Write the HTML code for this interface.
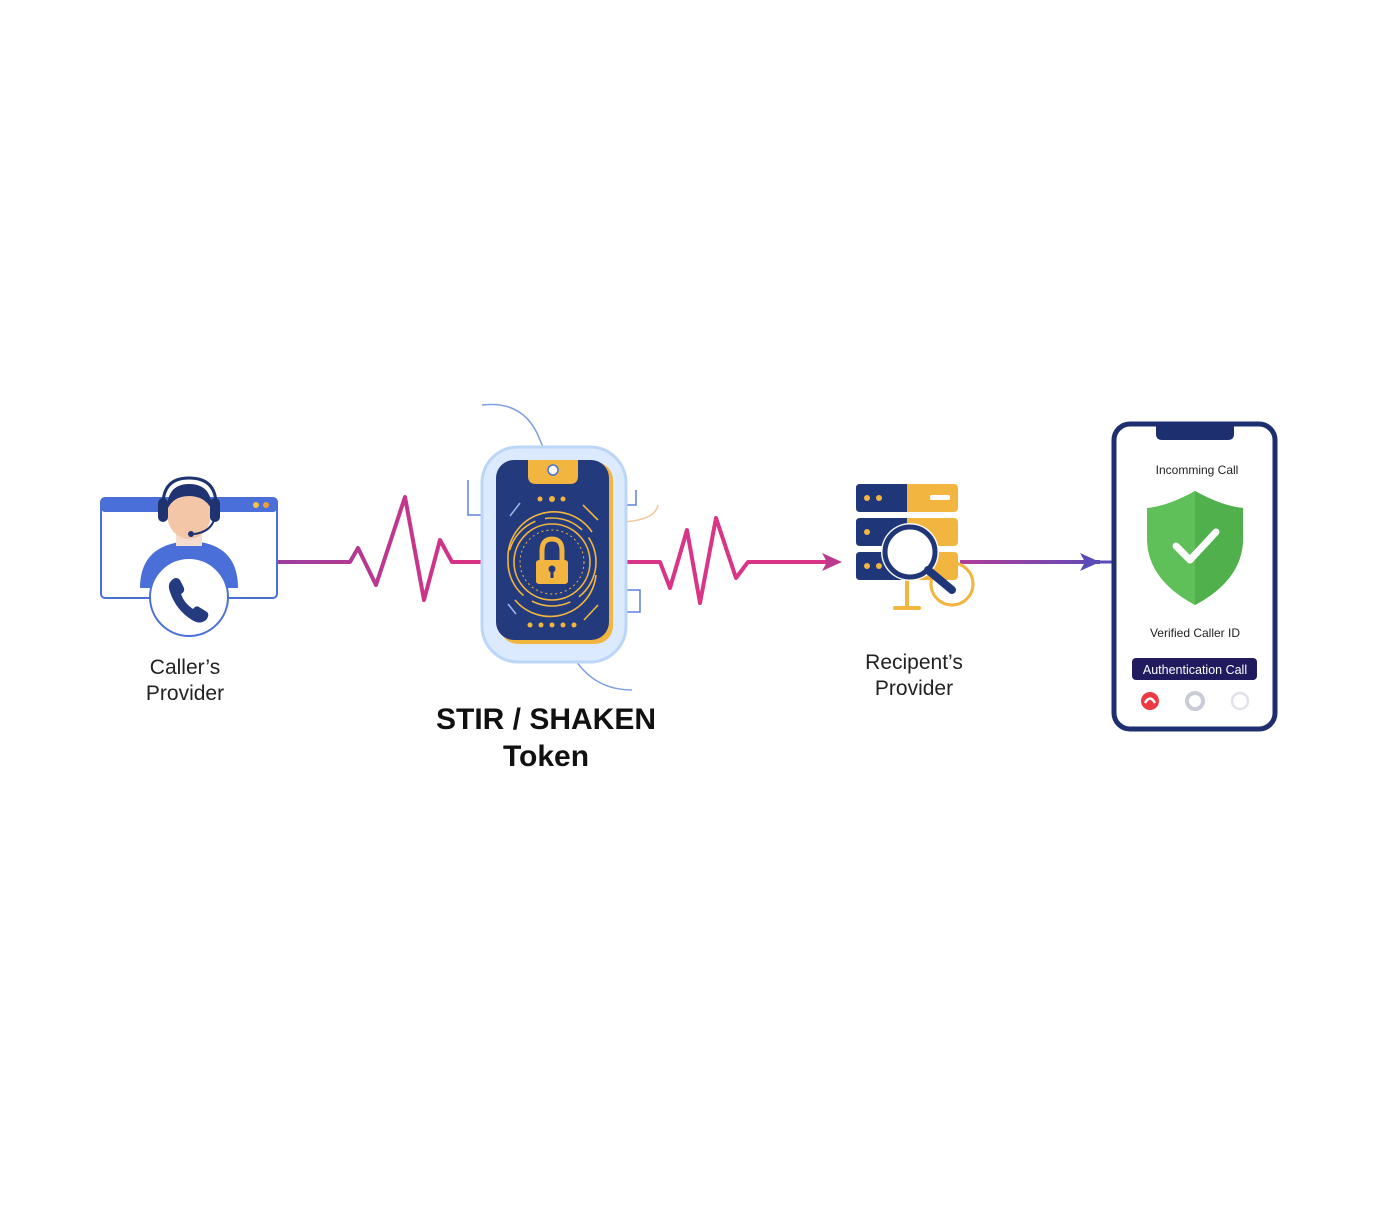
<!DOCTYPE html>
<html><head><meta charset="utf-8"><style>
html,body{margin:0;padding:0;background:#fff;}
svg{display:block}
text{font-family:"Liberation Sans",sans-serif}
</style></head><body>
<svg width="1374" height="1212" viewBox="0 0 1374 1212" xmlns="http://www.w3.org/2000/svg">
<defs>
<linearGradient id="lg1" gradientUnits="userSpaceOnUse" x1="278" y1="0" x2="490" y2="0"><stop offset="0" stop-color="#9a3f9e"/><stop offset="1" stop-color="#e0307f"/></linearGradient>
<linearGradient id="lg2" gradientUnits="userSpaceOnUse" x1="960" y1="0" x2="1110" y2="0"><stop offset="0" stop-color="#b03d98"/><stop offset="1" stop-color="#5b4bb8"/></linearGradient>
</defs>
<!-- connectors -->
<polyline points="278,562 350,562 358,548 376,585 405,497 424,600 440,540 452,562 490,562" fill="none" stroke="url(#lg1)" stroke-width="4" stroke-linejoin="round"/>
<polyline points="612,562 660,562 670,588 687,530 700,603 716,518 736,578 748,562 830,562" fill="none" stroke="#d93486" stroke-width="4" stroke-linejoin="round"/>
<polygon points="822,553 842,562 822,571 827,562" fill="#b93a90"/>
<rect x="960" y="560" width="140" height="4" fill="url(#lg2)"/>
<polygon points="1080,553 1100,562 1080,571 1085,562" fill="#5a4bb8"/>
<line x1="1095" y1="562" x2="1113" y2="562" stroke="#5a4bb8" stroke-width="3"/>

<!-- caller's provider -->
<rect x="101" y="498" width="176" height="100" rx="4" fill="#fff" stroke="#4a6fd8" stroke-width="2"/>
<rect x="101" y="498" width="176" height="14" rx="4" fill="#4a6fd8"/>
<circle cx="256" cy="505" r="3" fill="#f3c04c"/><circle cx="266" cy="505" r="3" fill="#f39b3c"/>
<path d="M140,588 Q140,548 180,542 L200,542 Q238,548 238,588 Z" fill="#4a6fd8"/>
<rect x="176" y="528" width="26" height="18" fill="#f6ddd0"/>
<ellipse cx="189" cy="514" rx="22" ry="25" fill="#f4c6a8"/>
<path d="M167,510 Q167,484 189,484 Q212,484 212,510 Q205,496 189,496 Q173,496 167,510Z" fill="#1e3370"/>
<path d="M163,505 Q163,478 189,478 Q216,478 216,505" fill="none" stroke="#1e3370" stroke-width="3"/>
<rect x="158" y="498" width="10" height="24" rx="5" fill="#1e3370"/>
<rect x="210" y="498" width="10" height="24" rx="5" fill="#1e3370"/>
<path d="M214,520 Q210,532 194,534" fill="none" stroke="#1e3370" stroke-width="2"/>
<circle cx="191" cy="534" r="3" fill="#1e3370"/>
<circle cx="189" cy="597" r="39" fill="#fff" stroke="#4a6fd8" stroke-width="2"/>
<path d="M172,580 q4,-4 8,0 l4,8 q1,4 -3,6 q3,9 12,15 q3,-4 6,-2 l8,5 q3,3 -1,8 q-6,5 -14,0 q-16,-10 -22,-28 q-3,-8 2,-12z" fill="#243b80"/>
<text x="185" y="674" font-size="21" text-anchor="middle" fill="#222">Caller’s</text>
<text x="185" y="700" font-size="21" text-anchor="middle" fill="#222">Provider</text>

<!-- token -->
<path d="M482,405 Q525,400 540,440 L552,468" fill="none" stroke="#7d9fe6" stroke-width="1.5"/>
<path d="M468,480 L468,515 L500,515" fill="none" stroke="#5b80df" stroke-width="1.5"/>
<path d="M612,505 L636,505 L636,490" fill="none" stroke="#5b80df" stroke-width="1.5"/>
<path d="M615,522 Q655,522 658,505" fill="none" stroke="#f2c79a" stroke-width="1.5"/>
<path d="M612,590 L640,590 L640,612 L615,612" fill="none" stroke="#5b80df" stroke-width="1.5"/>
<path d="M565,640 Q585,690 632,690" fill="none" stroke="#7d9fe6" stroke-width="1.5"/>
<rect x="482" y="447" width="144" height="215" rx="36" fill="#dceaff" stroke="#bcd6f8" stroke-width="3"/>
<rect x="500" y="462" width="113" height="182" rx="18" fill="#f2b540"/>
<rect x="496" y="460" width="113" height="180" rx="18" fill="#233b7d"/>
<path d="M528,460 L578,460 L578,476 Q578,484 570,484 L536,484 Q528,484 528,476Z" fill="#f2b540"/>
<circle cx="553" cy="470" r="5" fill="#fff" stroke="#4a6fd8" stroke-width="1.5"/>
<g fill="#f2b540"><circle cx="540" cy="499" r="2.5"/><circle cx="552" cy="499" r="3"/><circle cx="563" cy="499" r="2.5"/>
<circle cx="530" cy="625" r="2.5"/><circle cx="541" cy="625" r="2.5"/><circle cx="552" cy="625" r="2.5"/><circle cx="563" cy="625" r="2.5"/><circle cx="574" cy="625" r="2.5"/></g>
<g fill="none" stroke="#f2b540" stroke-width="1.6">
<circle cx="552" cy="562" r="38"/><circle cx="552" cy="562" r="44" stroke-dasharray="40 10"/>
<path d="M508,560 A46,46 0 0 1 592,532" /><path d="M596,575 A46,46 0 0 1 515,600"/>
<circle cx="552" cy="562" r="32" stroke-width="1" stroke-dasharray="2 3"/>
<line x1="583" y1="505" x2="598" y2="520"/><line x1="584" y1="620" x2="598" y2="605"/></g>
<g fill="none" stroke="#9fb6ec" stroke-width="1.5"><line x1="520" y1="503" x2="510" y2="516"/><line x1="508" y1="604" x2="516" y2="614"/></g>
<rect x="536" y="560" width="32" height="24" rx="3" fill="#f2b540"/>
<path d="M542,560 L542,551 Q542,539 552,539 Q562,539 562,551 L562,560" fill="none" stroke="#f2b540" stroke-width="5"/>
<circle cx="552" cy="569" r="3.5" fill="#233b7d"/><rect x="550.5" y="570" width="3" height="8" fill="#233b7d"/>
<text x="546" y="729" font-size="30" font-weight="bold" text-anchor="middle" fill="#111">STIR / SHAKEN</text>
<text x="546" y="766" font-size="30" font-weight="bold" text-anchor="middle" fill="#111">Token</text>

<!-- recipient's provider -->
<g>
<rect x="856" y="484" width="102" height="28" rx="4" fill="#f2b540"/><path d="M860,484 L907,484 L907,512 L860,512 Q856,512 856,508 L856,488 Q856,484 860,484Z" fill="#1f3778"/>
<rect x="856" y="518" width="102" height="28" rx="4" fill="#f2b540"/><path d="M860,518 L907,518 L907,546 L860,546 Q856,546 856,542 L856,522 Q856,518 860,518Z" fill="#1f3778"/>
<rect x="856" y="552" width="102" height="28" rx="4" fill="#f2b540"/><path d="M860,552 L907,552 L907,580 L860,580 Q856,580 856,576 L856,556 Q856,552 860,552Z" fill="#1f3778"/>
<rect x="930" y="495" width="20" height="5" rx="2" fill="#fff"/>
<g fill="#f2b540"><circle cx="867" cy="498" r="3"/><circle cx="879" cy="498" r="3"/><circle cx="867" cy="532" r="3"/><circle cx="867" cy="566" r="3"/><circle cx="879" cy="566" r="3"/></g>
<rect x="905" y="580" width="4" height="28" fill="#f2b540"/><rect x="893" y="606" width="28" height="4" rx="2" fill="#f2b540"/>
<circle cx="952" cy="584" r="21" fill="none" stroke="#f2b540" stroke-width="3"/>
<circle cx="910" cy="552" r="29" fill="#fff" opacity=".95"/>
<circle cx="910" cy="552" r="25" fill="#fff" stroke="#1f3778" stroke-width="5"/>
<line x1="928" y1="570" x2="952" y2="590" stroke="#1f3778" stroke-width="8" stroke-linecap="round"/>
</g>
<text x="914" y="669" font-size="21" text-anchor="middle" fill="#222">Recipent’s</text>
<text x="914" y="695" font-size="21" text-anchor="middle" fill="#222">Provider</text>

<!-- phone -->
<rect x="1114" y="424" width="161" height="305" rx="16" fill="#fff" stroke="#1d2f6f" stroke-width="5"/>
<path d="M1156,424 L1234,424 L1234,434 Q1234,440 1228,440 L1162,440 Q1156,440 1156,434Z" fill="#1d2f6f"/>
<text x="1197" y="474" font-size="12" text-anchor="middle" fill="#222">Incomming Call</text>
<path d="M1195,491 Q1222,506 1243,508 L1243,540 Q1242,580 1195,605 Q1148,580 1147,540 L1147,508 Q1168,506 1195,491Z" fill="#5fc05a"/>
<path d="M1195,491 Q1222,506 1243,508 L1243,540 Q1242,580 1195,605Z" fill="#4fb04c"/>
<polyline points="1176,546 1190,560 1216,532" fill="none" stroke="#fff" stroke-width="7" stroke-linecap="round" stroke-linejoin="round"/>
<text x="1195" y="637" font-size="12" text-anchor="middle" fill="#222">Verified Caller ID</text>
<rect x="1132" y="658" width="125" height="22" rx="4" fill="#1f1b5e"/>
<text x="1195" y="674" font-size="12.5" text-anchor="middle" fill="#fff">Authentication Call</text>
<circle cx="1150" cy="701" r="9" fill="#ec3a45"/><path d="M1145,703 Q1150,694 1155,703" fill="none" stroke="#fff" stroke-width="2.5"/>
<circle cx="1195" cy="701" r="8" fill="none" stroke="#c9cbd6" stroke-width="4"/>
<circle cx="1240" cy="701" r="8" fill="none" stroke="#e2e3e8" stroke-width="2.5"/>
</svg>
</body></html>
